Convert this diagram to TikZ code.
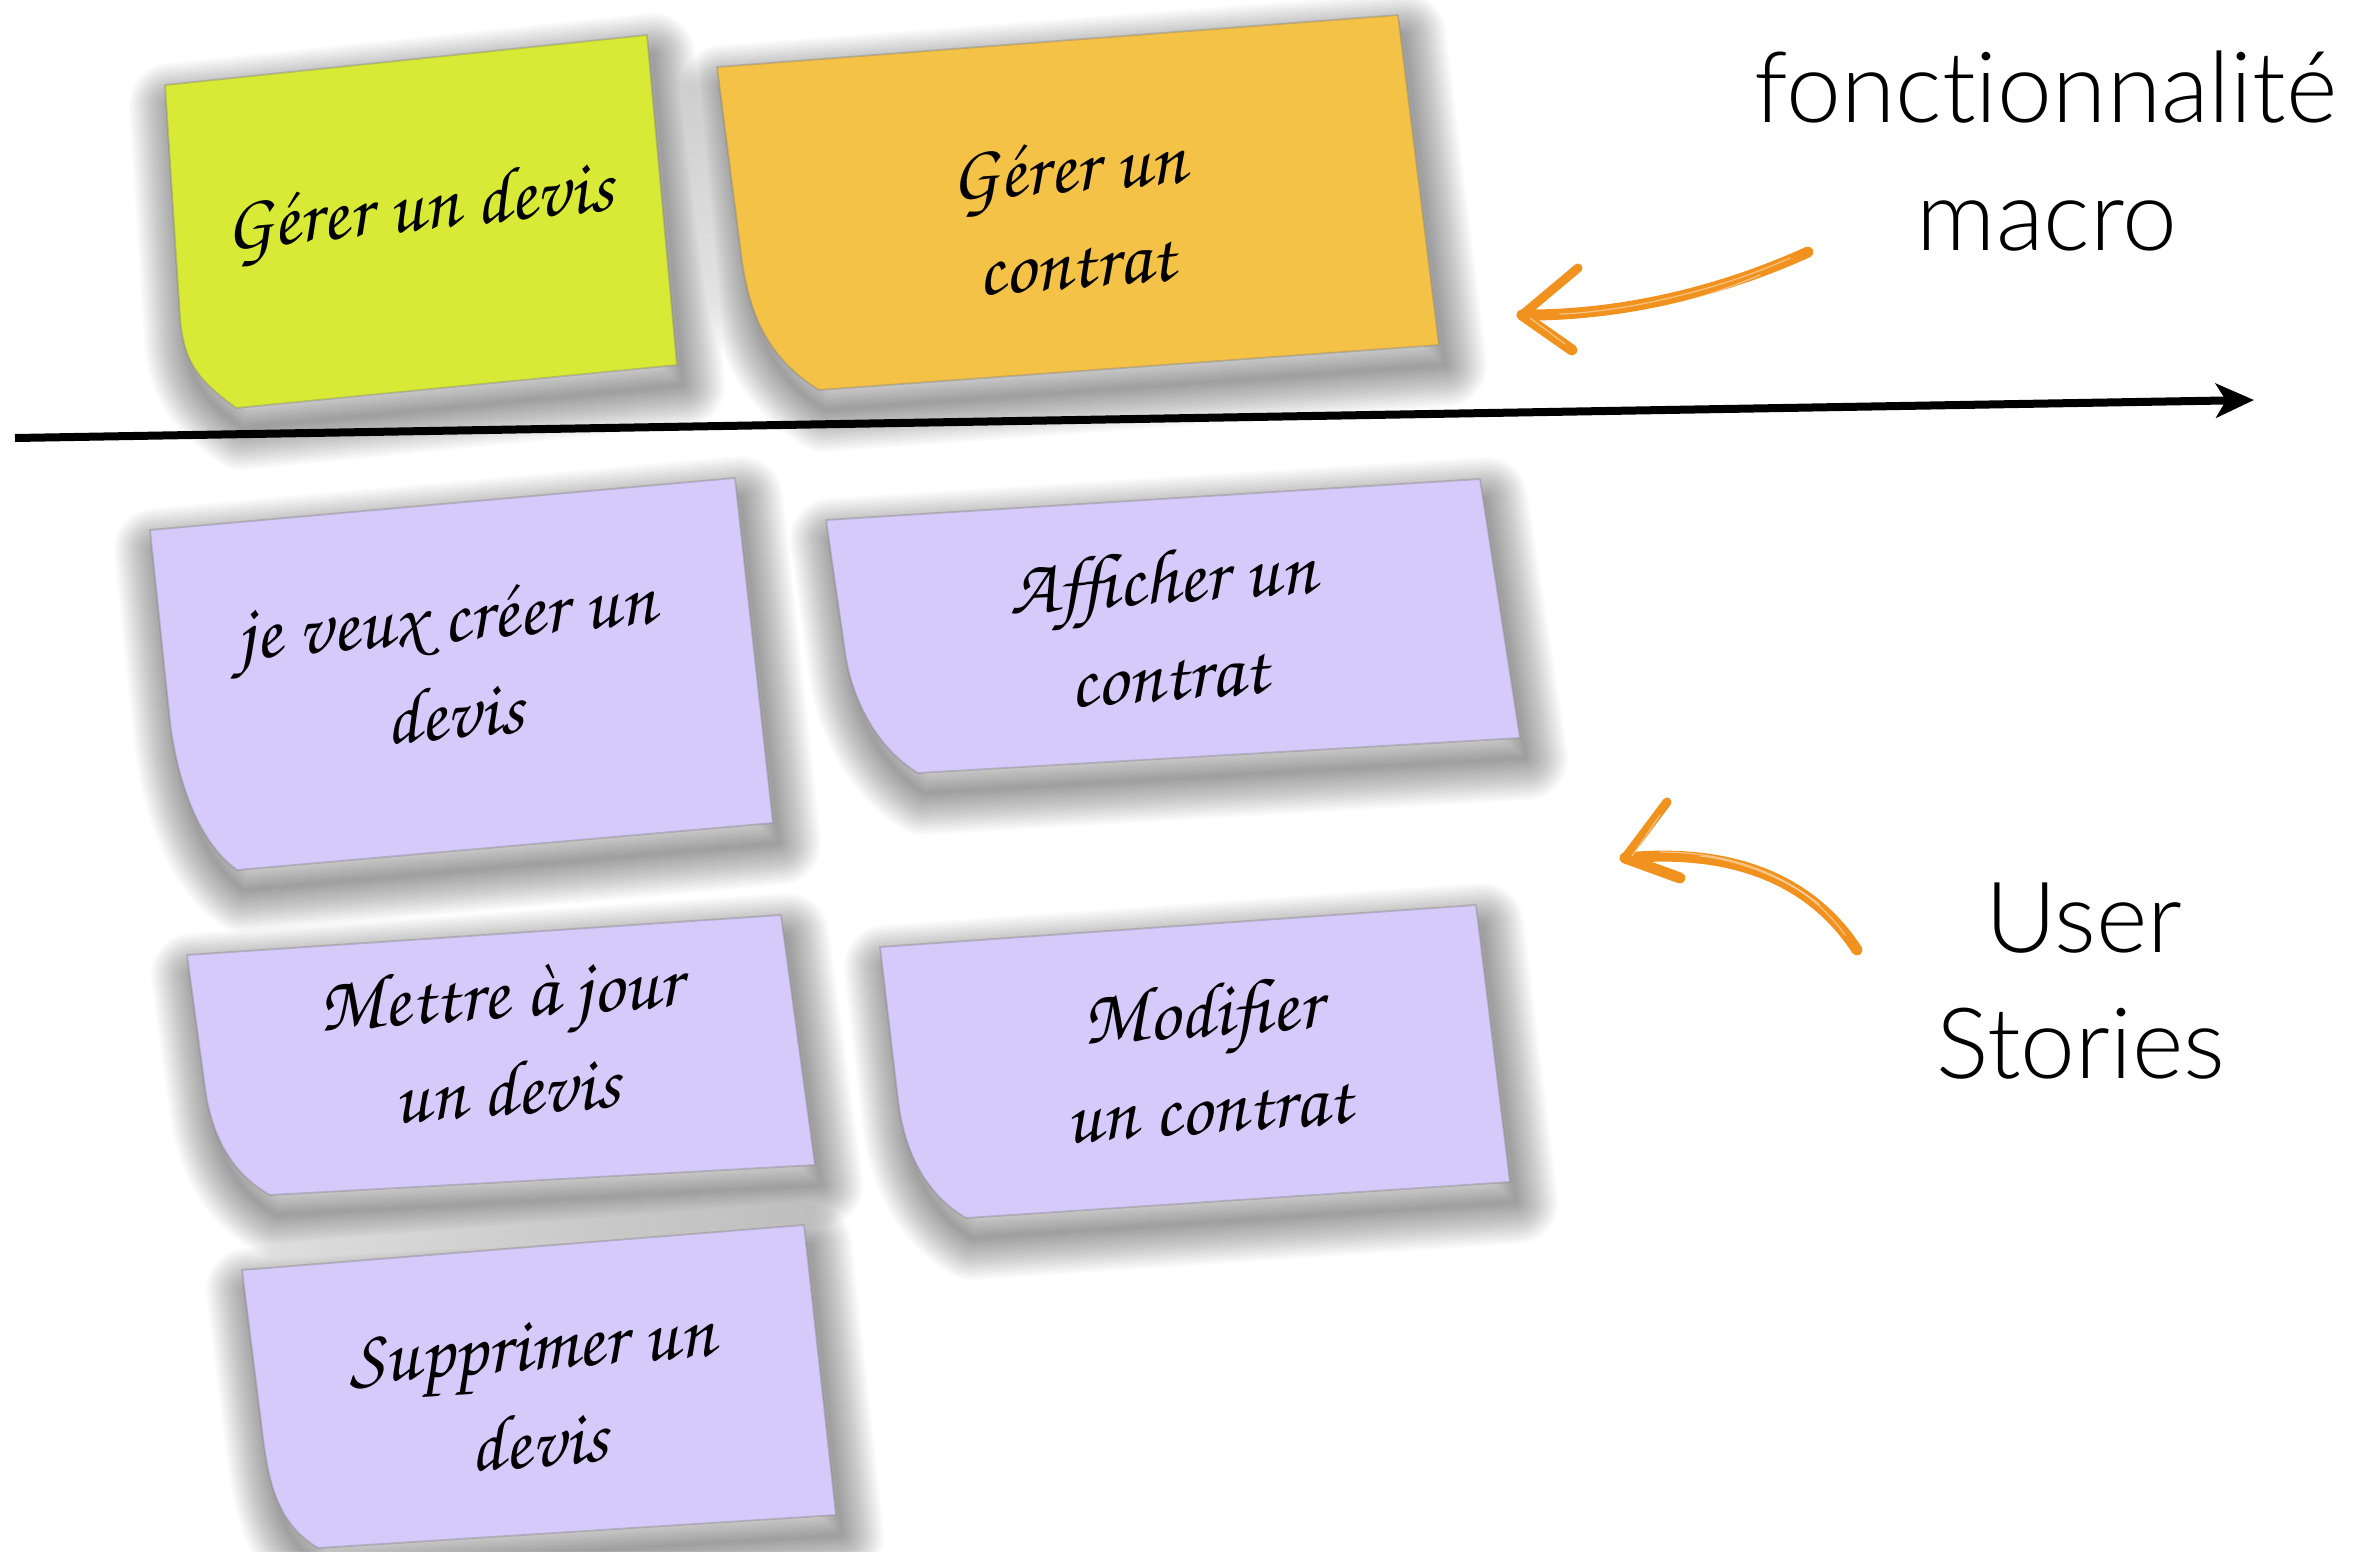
\documentclass[tikz,border=0pt]{standalone}
\usepackage[T1]{fontenc}
\usepackage{fontspec}
\newfontfamily\labelfont{Lato Light}[Ligatures=NoCommon]
\usetikzlibrary{arrows.meta}
\definecolor{notegreen}{RGB}{216,234,54}
\definecolor{noteorange}{RGB}{243,194,70}
\definecolor{notelilac}{RGB}{214,202,250}
\definecolor{brush}{RGB}{241,146,30}
\newcommand\handfont{\fontencoding{T1}\fontfamily{pzc}\selectfont}

% sticky note: #1 colour, #2 top left, #3 top right, #4 bottom right,
% #5 bottom left, #6 start of the curled left edge,
% #7 control offset at the bottom left, #8 control offset at #6
\newcommand\stickynote[8]{%
  \begin{scope}[shift={(6,20)}]
    \foreach \w in {4,8,...,84}{%
      \draw[black, opacity=0.019, line width=\w*0.01cm, line join=round]
        (#2) -- (#3) -- (#4) -- (#5) .. controls +(#7) and +(#8) .. (#6) -- cycle;}
  \end{scope}
  \fill[#1] (#2) -- (#3) -- (#4) -- (#5) .. controls +(#7) and +(#8) .. (#6) -- cycle;
  \draw[black!50, opacity=0.4, line width=0.018cm, line join=round]
    (#2) -- (#3) -- (#4) -- (#5) .. controls +(#7) and +(#8) .. (#6) -- cycle;
}

\tikzset{
  notetext/.style={font=\handfont\fontsize{22}{27.5}\selectfont, align=center, text=black, inner sep=0pt},
  label/.style={font=\labelfont\fontsize{28}{34}\selectfont, anchor=base, inner sep=0pt},
  brushstroke/.style={draw=brush, line cap=round, line join=round},
  streak/.style={draw=white, opacity=0.45, line cap=round, line width=0.012cm},
  axis/.style={line width=0.08cm, -{Stealth[length=0.38cm, width=0.34cm, inset=0.1cm]}}
}

\begin{document}
\begin{tikzpicture}[x=0.01cm, y=-0.01cm]
\useasboundingbox (0,0) rectangle (2369,1551);
\fill[white] (0,0) rectangle (2369,1551);

% macro features, above the axis
\stickynote{notegreen}{165,85}{647,35}{677,365}{236,408}{180,318}{-38,-28}{4,45}
\stickynote{noteorange}{717,67}{1398,15}{1439,345}{819,390}{742,262}{-52,-32}{8,52}

% user stories, below the axis
\stickynote{notelilac}{150,530}{735,478}{773,823}{237,870}{170,722}{-42,-30}{6,50}
\stickynote{notelilac}{826,520}{1480,479}{1520,738}{918,773}{845,652}{-42,-25}{6,45}
\stickynote{notelilac}{187,955}{781,915}{815,1165}{270,1195}{205,1088}{-40,-22}{6,45}
\stickynote{notelilac}{880,947}{1476,905}{1510,1182}{966,1218}{898,1100}{-42,-25}{6,50}
\stickynote{notelilac}{242,1270}{804,1225}{836,1515}{318,1548}{262,1430}{-42,-25}{6,50}

\node[notetext, rotate=6]   (geredevis)   at (419,212)  {Gérer un devis};
\node[notetext, rotate=4.5] (gerecontrat) at (1072,215) {Gérer un\\contrat};
\node[notetext, rotate=5]   (creerdevis)  at (450,665)  {je veux créer un\\devis};
\node[notetext, rotate=4]   (affcontrat)  at (1165,625) {Afficher un\\contrat};
\node[notetext, rotate=4]   (majdevis)    at (503,1040) {Mettre à jour\\un devis};
\node[notetext, rotate=4]   (modcontrat)  at (1205,1058){Modifier\\un contrat};
\node[notetext, rotate=4.5] (supdevis)    at (535,1395) {Supprimer un\\devis};

% time axis
\coordinate (axisstart) at (15,438);
\coordinate (axisend) at (2254,400);
\draw[axis] (axisstart) -- (axisend);

% labels
\node[label] (fonct) at (2046,122) {fonctionnalité};
\node[label] (macro) at (2047,250) {macro};
\node[label] (user) at (2084,952) {User};
\node[label] (stories) at (2081,1078) {Stories};

% brushed arrow towards the macro features
\coordinate (mtail) at (1808,252);
\coordinate (mtip) at (1522,315);
\coordinate (mup) at (1578,268);
\coordinate (mlow) at (1572,350);
\draw[brushstroke, line width=0.11cm] (mtail) .. controls (1720,292) and (1620,316) .. (mtip);
\draw[streak] (1790,258) .. controls (1715,292) and (1620,312) .. (1560,314);
\draw[streak] (1760,275) .. controls (1700,300) and (1640,316) .. (1580,319);
\draw[brushstroke, line width=0.09cm] (mtip) -- (mup);
\draw[brushstroke, line width=0.11cm] (mtip) -- (mlow);
\draw[streak] (1530,318) -- (1565,344);

% brushed arrow towards the user stories
\coordinate (utail) at (1857,950);
\coordinate (utip) at (1625,858);
\coordinate (uup) at (1667,802);
\coordinate (ulow) at (1680,878);
\draw[brushstroke, line width=0.11cm] (utail) .. controls (1810,878) and (1730,848) .. (utip);
\draw[streak] (1845,935) .. controls (1805,878) and (1735,852) .. (1660,852);
\draw[streak] (1820,905) .. controls (1790,880) and (1740,860) .. (1700,856);
\draw[brushstroke, line width=0.09cm] (utip) -- (uup);
\draw[brushstroke, line width=0.11cm] (utip) -- (ulow);
\draw[streak] (1632,856) -- (1660,815);
\end{tikzpicture}
\end{document}
